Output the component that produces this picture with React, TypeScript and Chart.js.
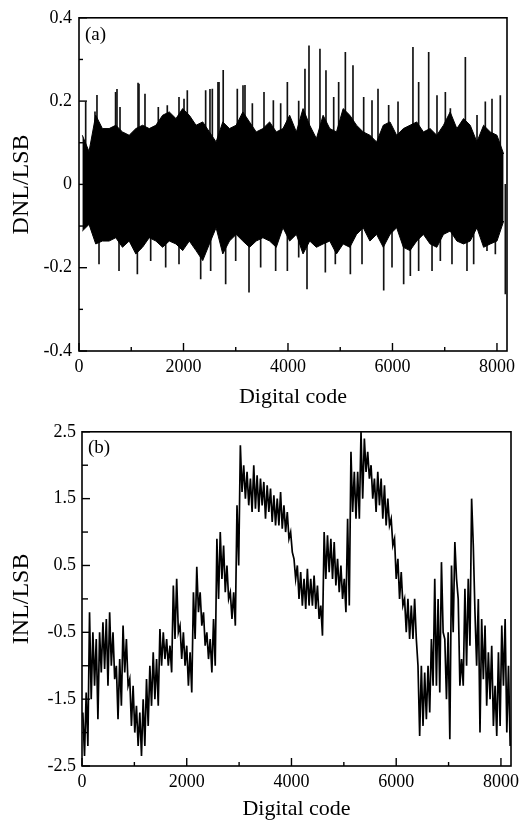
import React, { useEffect, useRef } from "react";
import { Chart, registerables } from "chart.js";

Chart.register(...registerables);
Chart.defaults.font.family = '"Liberation Serif", "Times New Roman", serif';
Chart.defaults.color = "#000";

// ---------- DATA ----------
const TOTAL_CODES = 8192;
const DNL_BIN = 128; // codes per envelope bin
// DNL dense-band envelope per 128-code bin (LSB)
const dnlHigh = [
  0.118, 0.079, 0.166, 0.134, 0.134, 0.142, 0.126, 0.118, 0.134, 0.142, 0.134, 0.142, 0.166, 0.174, 0.158, 0.182,
  0.166, 0.142, 0.15, 0.126, 0.102, 0.15, 0.134, 0.142, 0.174, 0.15, 0.126, 0.134, 0.15, 0.126, 0.134, 0.166,
  0.126, 0.182, 0.142, 0.11, 0.166, 0.134, 0.126, 0.182, 0.166, 0.142, 0.126, 0.118, 0.102, 0.142, 0.15, 0.118,
  0.134, 0.142, 0.15, 0.126, 0.134, 0.118, 0.142, 0.174, 0.134, 0.158, 0.142, 0.102, 0.142, 0.126, 0.118, 0.073,
];
const dnlLow = [
  -0.112, -0.096, -0.143, -0.136, -0.136, -0.128, -0.151, -0.136, -0.167, -0.151, -0.128, -0.136, -0.151, -0.136, -0.143, -0.159,
  -0.136, -0.159, -0.183, -0.143, -0.104, -0.167, -0.136, -0.12, -0.136, -0.151, -0.136, -0.128, -0.136, -0.151, -0.104, -0.136,
  -0.12, -0.167, -0.136, -0.151, -0.143, -0.136, -0.167, -0.143, -0.151, -0.12, -0.104, -0.136, -0.12, -0.151, -0.12, -0.104,
  -0.151, -0.159, -0.136, -0.12, -0.143, -0.151, -0.12, -0.112, -0.136, -0.143, -0.136, -0.104, -0.151, -0.143, -0.136, -0.088,
];
// isolated positive DNL spikes
const dnlSpikeUpCodes = [
  128, 306, 344, 700, 727, 785, 1130, 1148, 1263, 1518, 1690, 1914, 2010, 2073, 2424, 2507, 2552, 2660, 2680, 2760,
  3030, 3139, 3177, 3318, 3541, 3720, 3860, 3988, 4205, 4325, 4402, 4612, 4727, 4875, 4970, 5098, 5244, 5449, 5608,
  5723, 5927, 6106, 6392, 6501, 6693, 6852, 7012, 7108, 7395, 7618, 7777, 7905, 8064,
];
const dnlSpikeUpValues = [
  0.198, 0.174, 0.214, 0.221, 0.228, 0.185, 0.243, 0.241, 0.217, 0.185, 0.189, 0.209, 0.205, 0.225, 0.225, 0.228, 0.229, 0.245, 0.245, 0.274,
  0.229, 0.237, 0.238, 0.194, 0.221, 0.201, 0.194, 0.245, 0.2, 0.277, 0.333, 0.325, 0.273, 0.209, 0.245, 0.317, 0.285, 0.209, 0.201,
  0.229, 0.19, 0.198, 0.329, 0.245, 0.317, 0.213, 0.221, 0.182, 0.305, 0.166, 0.198, 0.205, 0.213,
];
// isolated negative DNL spikes
const dnlSpikeDownCodes = [
  383, 766, 1117, 1372, 1659, 1914, 2329, 2520, 2807, 2999, 3254, 3477, 3764, 3988, 4205, 4364, 4715, 4906,
  5194, 5417, 5832, 5991, 6214, 6342, 6501, 6757, 6916, 7139, 7426, 7554, 7809, 7969, 8160,
];
const dnlSpikeDownValues = [
  -0.191, -0.207, -0.215, -0.183, -0.199, -0.191, -0.227, -0.207, -0.239, -0.183, -0.259, -0.199, -0.207, -0.207, -0.175, -0.251, -0.211, -0.191,
  -0.215, -0.191, -0.254, -0.199, -0.239, -0.219, -0.207, -0.207, -0.183, -0.191, -0.207, -0.191, -0.159, -0.167, -0.263,
];

const INL_BIN = 64;
// INL band (max / min) per 64-code bin (LSB)
const inlHigh = [
  -1.7, -1.4, -0.2, -0.5, -0.6, -0.5, -0.35, -0.3, -0.2, -0.5, -1.0, -0.9, -0.4, -0.6, -1.2, -1.3,
  -1.6, -1.7, -1.5, -1.2, -1.0, -0.8, -0.9, -0.45, -0.5, -0.6, -0.7, 0.2, 0.3, -0.4, -0.5, -0.7,
  -0.8, 0.1, 0.48, 0.1, -0.2, -0.5, -0.6, -0.3, 0.9, 1.0, 0.8, 0.5, 0.1, 0.1, 1.4, 2.3,
  2.0, 1.9, 1.8, 2.0, 1.85, 1.8, 1.75, 1.7, 1.65, 1.55, 1.5, 1.6, 1.4, 1.3, 1.0, 0.6,
  0.5, 0.4, 0.3, 0.45, 0.3, 0.35, 0.2, -0.1, 1.0, 0.95, 0.9, 0.85, 0.6, 0.5, 0.3, 1.2,
  2.2, 1.9, 1.9, 2.5, 2.4, 2.2, 2.0, 1.8, 1.9, 1.8, 1.7, 1.5, 1.2, 0.9, 0.6, 0.4,
  0.0, 0.0, -0.1, 0.0, -1.0, -1.0, -1.1, -1.0, -0.6, 0.3, 0.0, 0.55, -0.6, -0.5, 0.5, 0.85,
  0.0, -0.9, 0.15, 0.3, 1.5, -0.2, 0.0, -0.3, -0.4, -0.8, -0.7, -1.3, -0.8, -0.4, -0.3, -1.0,
];
const inlLow = [
  -2.35, -2.2, -1.5, -1.3, -1.8, -1.1, -1.05, -1.3, -1.0, -1.2, -1.8, -1.6, -1.1, -1.3, -1.9, -2.0,
  -2.2, -2.35, -2.2, -1.9, -1.6, -1.5, -1.6, -1.0, -0.9, -1.0, -1.1, -0.6, -0.5, -0.9, -1.0, -1.3,
  -1.4, -0.6, -0.2, -0.4, -0.7, -0.9, -1.1, -1.0, 0.0, 0.3, 0.1, 0.0, -0.3, -0.4, 0.5, 1.6,
  1.5, 1.4, 1.3, 1.35, 1.3, 1.4, 1.2, 1.3, 1.15, 1.1, 1.1, 1.05, 1.0, 0.9, 0.7, 0.3,
  0.0, -0.1, -0.15, -0.1, -0.1, -0.15, -0.3, -0.55, 0.3, 0.4, 0.3, 0.2, 0.1, 0.0, -0.2, -0.1,
  1.3, 1.2, 1.2, 1.5, 1.9, 1.8, 1.5, 1.3, 1.4, 1.2, 1.1, 1.1, 0.8, 0.3, 0.0, -0.1,
  -0.5, -0.6, -0.6, -0.6, -2.05, -1.9, -1.8, -1.7, -1.3, -1.3, -1.4, -0.5, -1.5, -2.1, -0.5, 0.3,
  -1.3, -1.3, -1.0, -0.7, 0.8, -1.0, -2.0, -1.2, -1.6, -1.5, -1.9, -2.05, -1.9, -1.3, -2.0, -2.2,
];

const xMajorTicks = [0, 2000, 4000, 6000, 8000];
const xMinorTicks = [1000, 3000, 5000, 7000];
const dnlYMajor = [-0.4, -0.2, 0, 0.2, 0.4];
const dnlYMinor = [-0.3, -0.1, 0.1, 0.3];
const inlYMajor = [-2.5, -1.5, -0.5, 0.5, 1.5, 2.5];
const inlYMinor = [-2, -1, 0, 1, 2];

// ---------- PLUGIN: frame, inward ticks, panel letter ----------
const framePlugin = {
  id: "frame",
  afterDraw(chart: any, _args: any, opts: any) {
    const { ctx, chartArea: a } = chart;
    const xs = chart.scales.x;
    const ys = chart.scales.y;
    ctx.save();
    ctx.strokeStyle = "#000";
    ctx.lineWidth = 1.6;
    ctx.strokeRect(a.left, a.top, a.right - a.left, a.bottom - a.top);
    ctx.lineWidth = 1.4;
    const seg = (x1: number, y1: number, x2: number, y2: number) => {
      ctx.beginPath();
      ctx.moveTo(x1, y1);
      ctx.lineTo(x2, y2);
      ctx.stroke();
    };
    (opts.xMajor || []).forEach((v: number) => {
      const p = xs.getPixelForValue(v);
      seg(p, a.bottom, p, a.bottom - 8);
    });
    (opts.xMinor || []).forEach((v: number) => {
      const p = xs.getPixelForValue(v);
      seg(p, a.bottom, p, a.bottom - 4);
    });
    (opts.yMajor || []).forEach((v: number) => {
      const p = ys.getPixelForValue(v);
      seg(a.left, p, a.left + 8, p);
    });
    (opts.yMinor || []).forEach((v: number) => {
      const p = ys.getPixelForValue(v);
      seg(a.left, p, a.left + (opts.minorLen || 4), p);
    });
    if (opts.letter) {
      ctx.fillStyle = "#000";
      ctx.font = '19px "Liberation Serif", serif';
      ctx.textAlign = "left";
      ctx.textBaseline = "alphabetic";
      ctx.fillText(opts.letter, a.left + 6, a.top + opts.letterDy);
    }
    ctx.restore();
  },
};

function xScale(height: number, titlePad: number) {
  return {
    type: "linear",
    min: 0,
    max: TOTAL_CODES,
    offset: false,
    grid: { display: false, drawTicks: false },
    border: { display: false },
    afterBuildTicks: (s: any) => {
      s.ticks = xMajorTicks.map((v) => ({ value: v }));
    },
    afterFit: (s: any) => {
      s.height = height;
    },
    ticks: {
      padding: 5,
      color: "#000",
      font: { size: 18 },
      maxRotation: 0,
      autoSkip: false,
      callback: (v: any) => String(v),
    },
    title: {
      display: true,
      text: "Digital code",
      color: "#000",
      font: { size: 22, lineHeight: 1 },
      padding: { top: 0, bottom: titlePad },
    },
  };
}

function yScale(min: number, max: number, major: number[], width: number, title: string, pad: number) {
  return {
    type: "linear",
    min,
    max,
    grid: { display: false, drawTicks: false },
    border: { display: false },
    afterBuildTicks: (s: any) => {
      s.ticks = major.map((v) => ({ value: v }));
    },
    afterFit: (s: any) => {
      s.width = width;
    },
    ticks: {
      padding: pad,
      color: "#000",
      font: { size: 18 },
      autoSkip: false,
      callback: (v: any) => String(v),
    },
    title: {
      display: true,
      text: title,
      color: "#000",
      font: { size: 24, lineHeight: 1 },
      padding: { top: 10, bottom: 0 },
    },
  };
}

const baseOptions = (padding: any, frame: any, x: any, y: any) => ({
  animation: false,
  responsive: false,
  events: [],
  layout: { padding },
  plugins: {
    legend: { display: false },
    tooltip: { enabled: false },
    frame,
  },
  scales: { x, y },
});

function dnlConfig(): any {
  const hi = dnlHigh.map((h, i) => ({ x: i * DNL_BIN + DNL_BIN / 2, y: h }));
  const lo = dnlLow.map((l, i) => ({ x: i * DNL_BIN + DNL_BIN / 2, y: l }));
  const up = dnlSpikeUpCodes.map((c, i) => ({ x: c, y: [0, dnlSpikeUpValues[i]] }));
  const down = dnlSpikeDownCodes.map((c, i) => ({ x: c, y: [dnlSpikeDownValues[i], 0] }));
  return {
    type: "bar",
    data: {
      datasets: [
        {
          type: "line",
          data: hi,
          borderColor: "#000",
          borderWidth: 1,
          backgroundColor: "#000",
          pointRadius: 0,
          tension: 0,
          fill: "+1",
        },
        {
          type: "line",
          data: lo,
          borderColor: "#000",
          borderWidth: 1,
          pointRadius: 0,
          tension: 0,
          fill: false,
        },
        { data: up, backgroundColor: "#111", borderWidth: 0, barThickness: 1, grouped: false },
        { data: down, backgroundColor: "#111", borderWidth: 0, barThickness: 1, grouped: false },
      ],
    },
    options: baseOptions(
      { left: 0, right: 23, top: 15, bottom: 0 },
      { xMajor: xMajorTicks, xMinor: xMinorTicks, yMajor: dnlYMajor, yMinor: dnlYMinor, letter: "(a)", letterDy: 22 },
      xScale(64, 7),
      yScale(-0.4, 0.4, dnlYMajor, 79, "DNL/LSB", 7)
    ),
    plugins: [framePlugin],
  };
}

function inlConfig(): any {
  // trace sweeps between each bin's max and min
  const trace: { x: number; y: number }[] = [];
  inlHigh.forEach((h, i) => {
    trace.push({ x: i * INL_BIN + INL_BIN * 0.25, y: h });
    trace.push({ x: i * INL_BIN + INL_BIN * 0.75, y: inlLow[i] });
  });
  return {
    type: "line",
    data: {
      datasets: [
        {
          data: trace,
          borderColor: "#000",
          borderWidth: 1.7,
          pointRadius: 0,
          tension: 0,
          fill: false,
        },
      ],
    },
    options: baseOptions(
      { left: 0, right: 19, top: 16, bottom: 0 },
      {
        xMajor: xMajorTicks,
        xMinor: xMinorTicks,
        yMajor: inlYMajor,
        yMinor: inlYMinor,
        minorLen: 6,
        letter: "(b)",
        letterDy: 21,
      },
      xScale(54, 0),
      yScale(-2.5, 2.5, inlYMajor, 82, "INL/LSB", 6)
    ),
    plugins: [framePlugin],
  };
}

function Panel({ top, height, make }: { top: number; height: number; make: () => any }) {
  const ref = useRef<HTMLCanvasElement | null>(null);
  useEffect(() => {
    if (!ref.current) return;
    const chart = new Chart(ref.current, make());
    return () => chart.destroy();
  }, [make]);
  return (
    <canvas
      ref={ref}
      width={530}
      height={height}
      style={{ position: "absolute", left: 0, top, width: 530, height }}
    />
  );
}

export default function App() {
  return (
    <div
      style={{
        position: "fixed",
        left: 0,
        top: 0,
        width: 530,
        height: 820,
        background: "#fff",
        overflow: "hidden",
      }}
    >
      <Panel top={0} height={415} make={dnlConfig} />
      <Panel top={415} height={405} make={inlConfig} />
    </div>
  );
}
